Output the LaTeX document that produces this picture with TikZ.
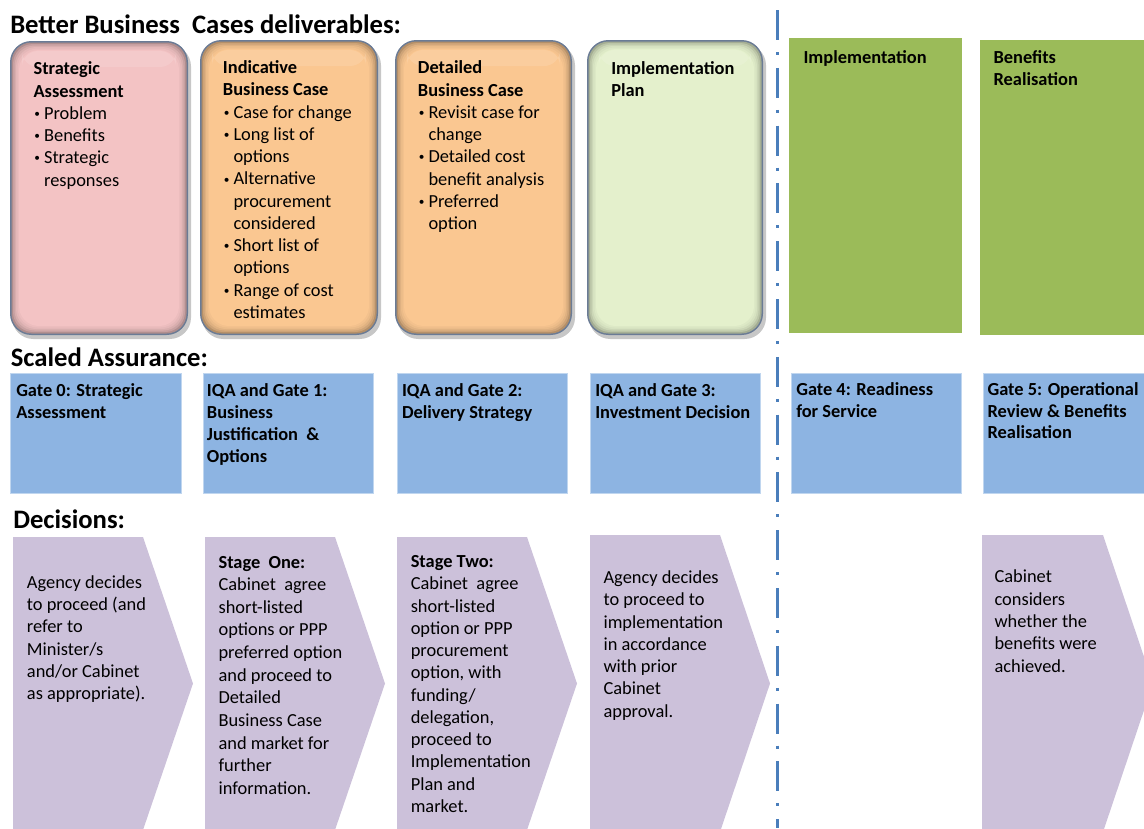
\documentclass[tikz,border=0pt]{standalone}
\usepackage{fontspec}
\setmainfont{Carlito}
\definecolor{pinkfill}{HTML}{F3C3C4}
\definecolor{orangefill}{HTML}{FAC791}
\definecolor{palegreen}{HTML}{E4F0CC}
\definecolor{olive}{HTML}{9BBB59}
\definecolor{gateblue}{HTML}{8DB4E2}
\definecolor{lilac}{HTML}{CCC1DA}
\definecolor{beveledge}{HTML}{6A7B95}
\definecolor{divider}{HTML}{4A7EBB}

% text sizes (picture units are screen pixels, 1px = 0.75pt)
\newcommand\bodyfont{\fontsize{13.8pt}{16.7pt}\selectfont}
\newcommand\gatefont{\bfseries\fontsize{13.8pt}{16.35pt}\selectfont}
\newcommand\headfont{\bfseries\fontsize{20pt}{23pt}\selectfont}
% bullet item and continuation line
\newcommand\bl{\makebox[7.9pt][l]{\hspace{0.6pt}\raisebox{1.4pt}{\fontsize{8.5pt}{8.5pt}\selectfont\textbullet}}}
\newcommand\cl{\hspace*{7.9pt}}

% rounded bevelled deliverable card: x1,y1,x2,y2,fill colour
\newcommand\bevelcard[5]{%
  \fill[black, opacity=.22, rounded corners=16pt] ({#1+2},{#2+4}) rectangle ({#3+3},{#4+4});
  \fill[beveledge, rounded corners=16pt] (#1,#2) rectangle (#3,#4);
  \foreach \i/\s in {1.5/72,3/82,4.5/89,6/94,7.5/97,9/100}{%
    \fill[#5!\s!black, rounded corners=15pt] ({#1+\i},{#2+\i}) rectangle ({#3-\i},{#4-\i});
  }%
  \fill[white, opacity=.12, rounded corners=12pt] ({#1+12},{#2+10}) rectangle ({#3-12},{#2+26});
}

\begin{document}
\begin{tikzpicture}[x=0.75pt,y=-0.75pt,
  txt/.style={anchor=north west, inner sep=0pt, align=left, font=\bodyfont},
  gatetxt/.style={anchor=north west, inner sep=0pt, align=left, font=\gatefont},
  headtxt/.style={anchor=base west, inner sep=0pt, font=\headfont},
  gatebox/.style={fill=gateblue, draw=gateblue!55!white, line width=0.6pt},
  phasebox/.style={fill=olive},
  chevron/.style={fill=lilac},
  dashdot/.style={draw=divider, line width=2.25pt,
    dash pattern=on 22.5pt off 9pt on 2.25pt off 9.6pt}]
\useasboundingbox (0,0) rectangle (1144,828);
\clip (0,0) rectangle (1144,828);

% ---------- section headings ----------
\node[headtxt] (hdeliv) at (10,33.3) {Better Business\ \ Cases deliverables:};
\node[headtxt] (hassur) at (10.5,366.7) {Scaled Assurance:};
\node[headtxt] (hdecis) at (13,528.5) {Decisions:};

% ---------- deliverable cards ----------
\bevelcard{10}{41}{188}{335}{pinkfill}
\bevelcard{200}{40}{378}{335}{orangefill}
\bevelcard{395}{40}{572}{335}{orangefill}
\bevelcard{587}{40}{763}{335}{palegreen}

\node[txt] (dsa) at (33.3,{74.5-15.6}) {\strut\textbf{Strategic}\\\textbf{Assessment}\\
  \bl Problem\\\bl Benefits\\\bl Strategic\\\cl responses};
\node[txt] (dibc) at (222.7,{73.3-15.6}) {\strut\textbf{Indicative}\\\textbf{Business Case}\\
  \bl Case for change\\\bl Long list of\\\cl options\\\bl Alternative\\\cl procurement\\
  \cl considered\\\bl Short list of\\\cl options\\\bl Range of cost\\\cl estimates};
\node[txt] (ddbc) at (417.7,{73.5-15.6}) {\strut\textbf{Detailed}\\\textbf{Business Case}\\
  \bl Revisit case for\\\cl change\\\bl Detailed cost\\\cl benefit analysis\\
  \bl Preferred\\\cl option};
\node[txt] (dip) at (611,{74-15.6}) {\strut\textbf{Implementation}\\\textbf{Plan}};

% ---------- later phases ----------
\fill[phasebox] (789,38) rectangle (962,333);
\fill[phasebox] (980,40) rectangle (1150,335);
\node[txt, font=\bodyfont\bfseries] (pimpl) at (803.3,{63.3-15.6}) {\strut Implementation};
\node[txt, font=\bodyfont\bfseries] (pben) at (993.3,{63.3-15.6}) {\strut Benefits\\Realisation};

% ---------- assurance gates ----------
\fill[gatebox] (10,373) rectangle (181,493);
\fill[gatebox] (203,373) rectangle (373,493);
\fill[gatebox] (397,373) rectangle (567,493);
\fill[gatebox] (590,373) rectangle (760,493);
\fill[gatebox] (791,373) rectangle (961,493);
\fill[gatebox] (983,373) rectangle (1150,493);

\node[gatetxt] (g0) at (16,{396.7-15.3}) {\strut Gate 0: Strategic\\Assessment};
\node[gatetxt] (g1) at (206.7,{396.7-15.3}) {\strut IQA and Gate 1:\\Business\\Justification\ \ \&\\Options};
\node[gatetxt] (g2) at (401.8,{396.7-15.3}) {\strut IQA and Gate 2:\\Delivery Strategy};
\node[gatetxt] (g3) at (595,{396.7-15.3}) {\strut IQA and Gate 3:\\Investment Decision};
\node[gatetxt] (g4) at (796,{395.5-15.3}) {\strut Gate 4: Readiness\\for Service};
\node[gatetxt] (g5) at (987.3,{395-15.3}) {\strut Gate 5: Operational\\Review \& Benefits\\Realisation};

% ---------- decision chevrons ----------
\fill[chevron] (13,537) -- (143,537) -- (193,683.5) -- (143,830) -- (13,830) -- cycle;
\fill[chevron] (205,537) -- (335,537) -- (385,683.5) -- (335,830) -- (205,830) -- cycle;
\fill[chevron] (397,537) -- (527,537) -- (577,683.5) -- (527,830) -- (397,830) -- cycle;
\fill[chevron] (590,535) -- (720,535) -- (770,683.5) -- (720,832) -- (590,832) -- cycle;
\fill[chevron] (982,535) -- (1103,535) -- (1153,683.5) -- (1103,832) -- (982,832) -- cycle;

\node[txt] (c1) at (26.7,{588-15.6}) {\strut Agency decides\\to proceed (and\\refer to\\Minister/s\\
  and/or Cabinet\\as appropriate).};
\node[txt, font=\fontsize{13.8pt}{16.95pt}\selectfont] (c2) at (218.3,{568-15.9}) {\strut\textbf{Stage\ \ One:}\\Cabinet\ \ agree\\
  short-listed\\options or PPP\\preferred option\\and proceed to\\Detailed\\Business Case\\
  and market for\\further\\information.};
\node[txt] (c3) at (410.5,{567.3-15.6}) {\strut\textbf{Stage Two:}\\Cabinet\ \ agree\\short-listed\\
  option or PPP\\procurement\\option, with\\funding/\\delegation,\\proceed to\\
  Implementation\\Plan and\\market.};
\node[txt] (c4) at (603.3,{583.3-15.6}) {\strut Agency decides\\to proceed to\\implementation\\
  in accordance\\with prior\\Cabinet\\approval.};
\node[txt] (c5) at (994.3,{582.7-15.6}) {\strut Cabinet\\considers\\whether the\\benefits were\\achieved.};

% ---------- divider between planning and delivery ----------
\coordinate (divtop) at (777.5,10);
\coordinate (divbot) at (777.5,828);
\draw[dashdot] (divtop) -- (divbot);
\end{tikzpicture}
\end{document}
